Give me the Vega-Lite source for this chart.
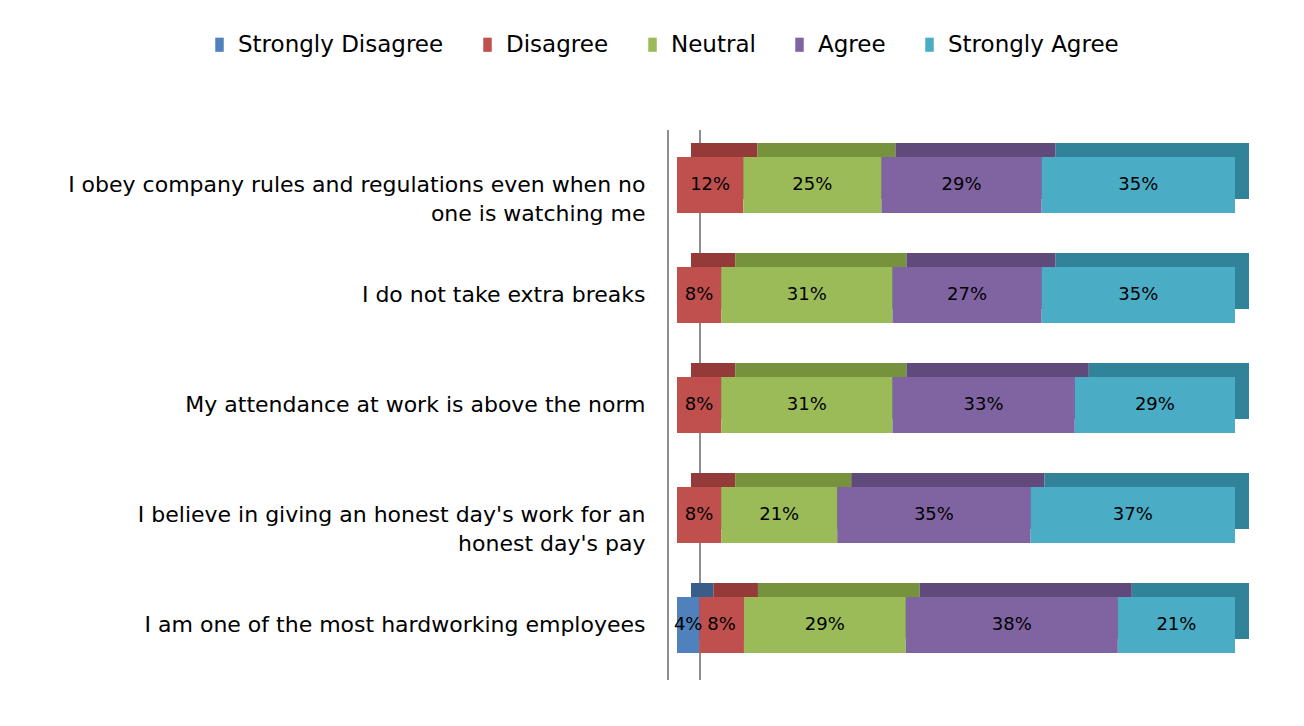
{
  "$schema": "https://vega.github.io/schema/vega-lite/v6.json",
  "width": 558,
  "height": 550,
  "autosize": {"type": "none"},
  "padding": {"left": 677, "top": 130, "right": 69, "bottom": 46},
  "background": "white",
  "config": {"view": {"stroke": null}, "font": "DejaVu Sans"},
  "data": {
    "values": [
      {"q": "I obey company rules and regulations even when no one is watching me", "r": "Disagree", "k": 2, "v": 0.12},
      {"q": "I obey company rules and regulations even when no one is watching me", "r": "Neutral", "k": 3, "v": 0.25},
      {"q": "I obey company rules and regulations even when no one is watching me", "r": "Agree", "k": 4, "v": 0.29},
      {"q": "I obey company rules and regulations even when no one is watching me", "r": "Strongly Agree", "k": 5, "v": 0.35},
      {"q": "I do not take extra breaks", "r": "Disagree", "k": 2, "v": 0.08},
      {"q": "I do not take extra breaks", "r": "Neutral", "k": 3, "v": 0.31},
      {"q": "I do not take extra breaks", "r": "Agree", "k": 4, "v": 0.27},
      {"q": "I do not take extra breaks", "r": "Strongly Agree", "k": 5, "v": 0.35},
      {"q": "My attendance at work is above the norm", "r": "Disagree", "k": 2, "v": 0.08},
      {"q": "My attendance at work is above the norm", "r": "Neutral", "k": 3, "v": 0.31},
      {"q": "My attendance at work is above the norm", "r": "Agree", "k": 4, "v": 0.33},
      {"q": "My attendance at work is above the norm", "r": "Strongly Agree", "k": 5, "v": 0.29},
      {"q": "I believe in giving an honest day's work for an honest day's pay", "r": "Disagree", "k": 2, "v": 0.08},
      {"q": "I believe in giving an honest day's work for an honest day's pay", "r": "Neutral", "k": 3, "v": 0.21},
      {"q": "I believe in giving an honest day's work for an honest day's pay", "r": "Agree", "k": 4, "v": 0.35},
      {"q": "I believe in giving an honest day's work for an honest day's pay", "r": "Strongly Agree", "k": 5, "v": 0.37},
      {"q": "I am one of the most hardworking employees", "r": "Strongly Disagree", "k": 1, "v": 0.04},
      {"q": "I am one of the most hardworking employees", "r": "Disagree", "k": 2, "v": 0.08},
      {"q": "I am one of the most hardworking employees", "r": "Neutral", "k": 3, "v": 0.29},
      {"q": "I am one of the most hardworking employees", "r": "Agree", "k": 4, "v": 0.38},
      {"q": "I am one of the most hardworking employees", "r": "Strongly Agree", "k": 5, "v": 0.21}
    ]
  },
  "transform": [
    {"stack": "v", "groupby": ["q"], "sort": [{"field": "k"}], "offset": "normalize", "as": ["x0", "x1"]},
    {"calculate": "(datum.x0 + datum.x1) / 2", "as": "xm"}
  ],
  "layer": [
    {
      "mark": {"type": "rule", "xOffset": -9, "color": "#8f8f8f", "strokeWidth": 1.5},
      "encoding": {"x": {"datum": 0, "type": "quantitative", "scale": {"domain": [0, 1]}, "axis": null}}
    },
    {
      "mark": {"type": "rule", "xOffset": 23, "color": "#8f8f8f", "strokeWidth": 1.5},
      "encoding": {"x": {"datum": 0, "type": "quantitative"}}
    },
    {
      "mark": {"type": "bar", "xOffset": 14, "x2Offset": 14, "yOffset": -14},
      "encoding": {
        "y": {"field": "q", "type": "nominal", "sort": null},
        "x": {"field": "x0", "type": "quantitative"},
        "x2": {"field": "x1"},
        "color": {
          "field": "r", "type": "nominal", "legend": null,
          "scale": {
            "domain": ["Strongly Disagree", "Disagree", "Neutral", "Agree", "Strongly Agree"],
            "range": ["#385d8a", "#943b39", "#76923c", "#604a7b", "#31839a"]
          }
        }
      }
    },
    {
      "mark": {"type": "bar"},
      "encoding": {
        "y": {
          "field": "q", "type": "nominal", "sort": null,
          "scale": {"paddingInner": 0.49, "paddingOuter": 0.245},
          "axis": {
            "title": null, "ticks": false, "domain": false, "labelPadding": 32,
            "labelFont": "DejaVu Sans", "labelFontSize": 22, "labelColor": "#000000",
            "labelLineHeight": 29, "labelLimit": 700,
            "labelExpr": "indexof(datum.value, 'I obey') == 0 ? ['I obey company rules and regulations even when no', 'one is watching me'] : indexof(datum.value, 'I believe') == 0 ? [\"I believe in giving an honest day's work for an\", \"honest day's pay\"] : datum.value"
          }
        },
        "x": {"field": "x0", "type": "quantitative"},
        "x2": {"field": "x1"},
        "color": {
          "field": "r", "type": "nominal",
          "scale": {
            "domain": ["Strongly Disagree", "Disagree", "Neutral", "Agree", "Strongly Agree"],
            "range": ["#4f81bd", "#c0504d", "#9bbb59", "#8064a2", "#4bacc6"]
          },
          "legend": {
            "title": null, "orient": "none", "direction": "horizontal", "columns": 5,
            "legendX": -469, "legendY": -97,
            "symbolType": "M-0.6,-1H0.6V1H-0.6Z", "symbolSize": 200, "symbolStrokeWidth": 0,
            "labelFont": "DejaVu Sans", "labelFontSize": 23, "labelColor": "#000000",
            "labelOffset": 7, "columnPadding": 32, "labelLimit": 400
          }
        }
      }
    },
    {
      "mark": {"type": "text", "font": "DejaVu Sans", "fontSize": 18, "color": "#000000"},
      "encoding": {
        "y": {"field": "q", "type": "nominal", "sort": null},
        "x": {"field": "xm", "type": "quantitative"},
        "text": {"field": "v", "type": "quantitative", "format": ".0%"}
      }
    }
  ],
  "resolve": {"scale": {"color": "independent"}}
}
